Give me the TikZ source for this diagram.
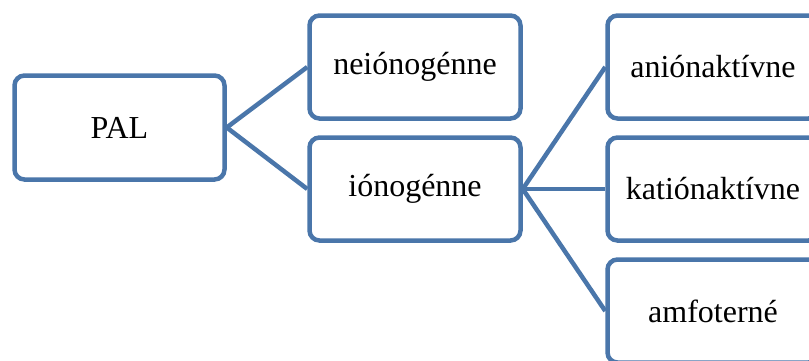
\documentclass[tikz,border=0pt]{standalone}
\usepackage{fontspec}
\setmainfont{Liberation Serif}
\definecolor{boxblue}{RGB}{74,118,170}
\begin{document}
\begin{tikzpicture}[x=1pt,y=-1pt,
  box/.style={draw=boxblue,line width=4.5pt,rounded corners=10pt,fill=white,
    minimum width=211pt,minimum height=103pt,inner sep=0pt,
    font=\fontsize{32}{36}\selectfont,text=black},
  conn/.style={draw=boxblue,line width=4.5pt}]
\useasboundingbox (0,0) rectangle (809,360);
\clip (0,0) rectangle (809,360);
\node[box,minimum width=210pt,minimum height=104pt] (pal) at (119.5,127.5) {PAL};
\node[box] (neio) at (415,67) {neiónogénne};
\node[box] (io) at (415,189) {iónogénne};
\node[box] (anio) at (713,67) {aniónaktívne};
\node[box] (katio) at (713,189) {katiónaktívne};
\node[box] (amfo) at (713,311) {amfoterné};
\draw[conn] (pal.east) -- (neio.west);
\draw[conn] (pal.east) -- (io.west);
\draw[conn] (io.east) -- (anio.west);
\draw[conn] (io.east) -- (katio.west);
\draw[conn] (io.east) -- (amfo.west);
\end{tikzpicture}
\end{document}
